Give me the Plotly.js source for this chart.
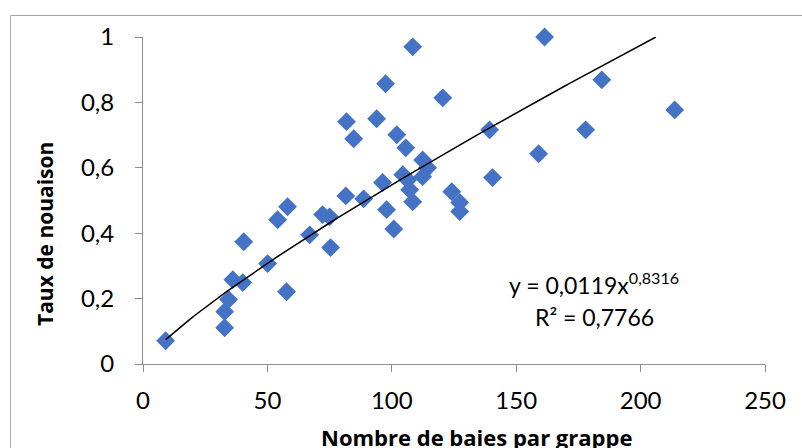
<!DOCTYPE html>
<html>
<head>
<meta charset="utf-8">
<script src="https://cdn.plot.ly/plotly-3.0.1.min.js"></script>
<style>html,body{margin:0;padding:0;background:#fff;}#chart{width:802px;height:448px;}</style>
</head>
<body>
<div id="chart"></div>
<script>
// Nombre de baies par grappe
const berries = [9.1, 32.8, 32.8, 34.4, 36.1, 40.1, 40.5, 50.1, 54.1, 57.7, 58.1, 67.0, 72.2, 75.0, 75.4,
  81.5, 81.8, 84.7, 88.7, 93.9, 97.5, 96.3, 97.9, 100.8, 102.0, 105.6, 108.4, 104.4, 106.4, 107.2,
  108.4, 112.4, 114.4, 112.4, 120.5, 124.1, 127.3, 127.3, 139.3, 140.5, 159.0, 161.4, 177.9, 184.4, 213.7];
// Taux de nouaison
const setRate = [0.071, 0.111, 0.160, 0.197, 0.258, 0.249, 0.374, 0.307, 0.441, 0.221, 0.481, 0.395, 0.457, 0.450, 0.356,
  0.514, 0.741, 0.689, 0.505, 0.750, 0.857, 0.555, 0.472, 0.413, 0.701, 0.661, 0.970, 0.579, 0.563, 0.533,
  0.496, 0.624, 0.600, 0.573, 0.814, 0.527, 0.494, 0.466, 0.716, 0.570, 0.643, 1.000, 0.716, 0.869, 0.777];
// Power trendline y = a * x^b
const fitA = 0.0119;
const fitB = 0.8316;
const fitR2 = "0,7766";
const xTicks = [0, 50, 100, 150, 200, 250];
const yTicks = [0, 0.2, 0.4, 0.6, 0.8, 1];

const xMin = Math.min(...berries);
const xMax = Math.pow(1 / fitA, 1 / fitB); // where curve reaches top of axis
const trendX = [], trendY = [];
const n = 80;
for (let i = 0; i <= n; i++) {
  const x = xMin + (xMax - xMin) * i / n;
  trendX.push(x);
  trendY.push(fitA * Math.pow(x, fitB));
}

const font = "Lato, 'Open Sans', sans-serif";
const boldFont = "'Open Sans', Lato, sans-serif";
const data = [
  {x: berries, y: setRate, type: 'scatter', mode: 'markers', cliponaxis: false,
   marker: {symbol: 'diamond', size: 14.5, color: '#4472C4', line: {width: 0}},
   hoverinfo: 'x+y', showlegend: false},
  {x: trendX, y: trendY, type: 'scatter', mode: 'lines',
   line: {color: '#000000', width: 1.5}, hoverinfo: 'skip', showlegend: false}
];

const L = 143, R = 37, T = 37, B = 84;
const pw = 802 - L - R, ph = 448 - T - B;
const px = v => (v - L) / pw;
const py = v => (448 - B - v) / ph;

const layout = {
  width: 802, height: 448,
  margin: {l: L, r: R, t: T, b: B, pad: 0},
  paper_bgcolor: '#ffffff', plot_bgcolor: '#ffffff',
  separators: ', ',
  font: {family: font, size: 22, color: '#000000'},
  xaxis: {range: [0, 250], tickvals: xTicks, showgrid: false, zeroline: false,
    showline: true, linecolor: '#8c8c8c', linewidth: 1,
    ticks: 'outside', ticklen: 7, tickcolor: '#8c8c8c', tickwidth: 1, ticklabelstandoff: 8,
    tickfont: {family: font, size: 24, color: '#000000'}, fixedrange: true},
  yaxis: {range: [0, 1], tickvals: yTicks, showgrid: false, zeroline: false,
    showline: true, linecolor: '#8c8c8c', linewidth: 1,
    ticks: 'outside', ticklen: 7, tickcolor: '#8c8c8c', tickwidth: 1, ticklabelstandoff: 16,
    tickfont: {family: font, size: 24, color: '#000000'}, fixedrange: true},
  shapes: [
    {type: 'rect', xref: 'paper', yref: 'paper', x0: px(10.5), x1: px(830), y0: py(15.5), y1: py(480),
     line: {color: '#a6a6a6', width: 1}, fillcolor: 'rgba(0,0,0,0)', layer: 'below'}
  ],
  annotations: [
    {xref: 'paper', yref: 'paper', x: px(476), y: py(437), text: '<b>Nombre de baies par grappe</b>',
     showarrow: false, xanchor: 'center', yanchor: 'middle', font: {family: boldFont, size: 22, color: '#000000'}},
    {xref: 'paper', yref: 'paper', x: px(45), y: py(234), text: '<b>Taux de nouaison</b>', textangle: -90,
     showarrow: false, xanchor: 'center', yanchor: 'middle', font: {family: boldFont, size: 21, color: '#000000'}},
    {xref: 'paper', yref: 'paper', x: px(594), y: py(283), text: 'y = 0,0119x<sup>0,8316</sup>',
     showarrow: false, xanchor: 'center', yanchor: 'middle', font: {family: font, size: 23, color: '#000000'}},
    {xref: 'paper', yref: 'paper', x: px(594), y: py(317), text: 'R² = ' + fitR2,
     showarrow: false, xanchor: 'center', yanchor: 'middle', font: {family: font, size: 23, color: '#000000'}}
  ]
};

Plotly.newPlot('chart', data, layout, {displayModeBar: false, staticPlot: true});
</script>
</body>
</html>
